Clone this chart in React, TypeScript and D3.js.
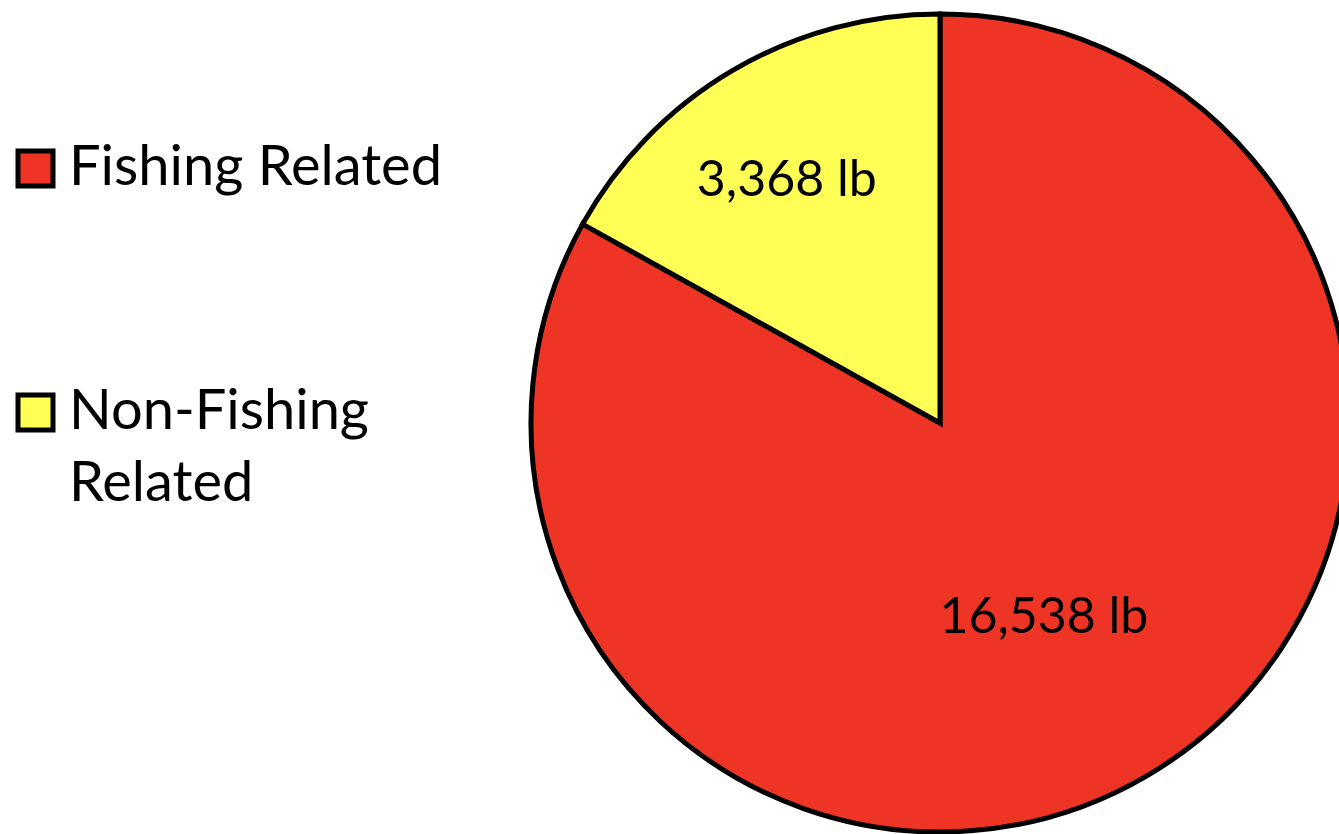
import React from "react";
import * as d3 from "d3";

const categories = ["Fishing Related", "Non-Fishing Related"];
const values = [16538, 3368];
const valueLabels = ["16,538 lb", "3,368 lb"];
const legendLines = [["Fishing Related"], ["Non-Fishing", "Related"]];
const colors = ["#EE3424", "#FFFF55"];

const W = 1339;
const H = 834;
const CX = 940;
const CY = 423;
const R = 409;
const FONT = "Lato, 'Open Sans', sans-serif";
const labelRadius = [0.53, 0.71];

export default function App() {
  const pie = d3.pie<number>().sort(null).value((d) => d);
  const arcs = pie(values);
  const arc = d3.arc<d3.PieArcDatum<number>>().innerRadius(0).outerRadius(R);

  const legendY = [149, 393];

  return (
    <svg
      width={W}
      height={H}
      style={{ position: "absolute", left: 0, top: 0, display: "block", background: "#fff" }}
    >
      <g transform={`translate(${CX},${CY})`}>
        {arcs.map((a, i) => (
          <path
            key={categories[i]}
            d={arc(a) || ""}
            fill={colors[i]}
            stroke="#000"
            strokeWidth={5}
            strokeLinejoin="miter"
          />
        ))}
        {arcs.map((a, i) => {
          const lr = R * labelRadius[i];
          const c = d3.arc<d3.PieArcDatum<number>>().innerRadius(lr).outerRadius(lr).centroid(a);
          return (
            <text
              key={"l" + i}
              x={c[0] - 6}
              y={c[1] + 4}
              textAnchor="middle"
              dominantBaseline="central"
              fontFamily={FONT}
              fontSize={50}
              fill="#000"
            >
              {valueLabels[i]}
            </text>
          );
        })}
      </g>
      {categories.map((cat, i) => (
        <g key={cat} transform={`translate(18,${legendY[i] + 2})`}>
          <rect x={0} y={0} width={35} height={35} fill={colors[i]} stroke="#000" strokeWidth={5} />
          {legendLines[i].map((ln, j) => (
            <text
              key={j}
              x={51}
              y={34 + j * 72}
              fontFamily={FONT}
              fontSize={56}
              fill="#000"
            >
              {ln}
            </text>
          ))}
        </g>
      ))}
    </svg>
  );
}
